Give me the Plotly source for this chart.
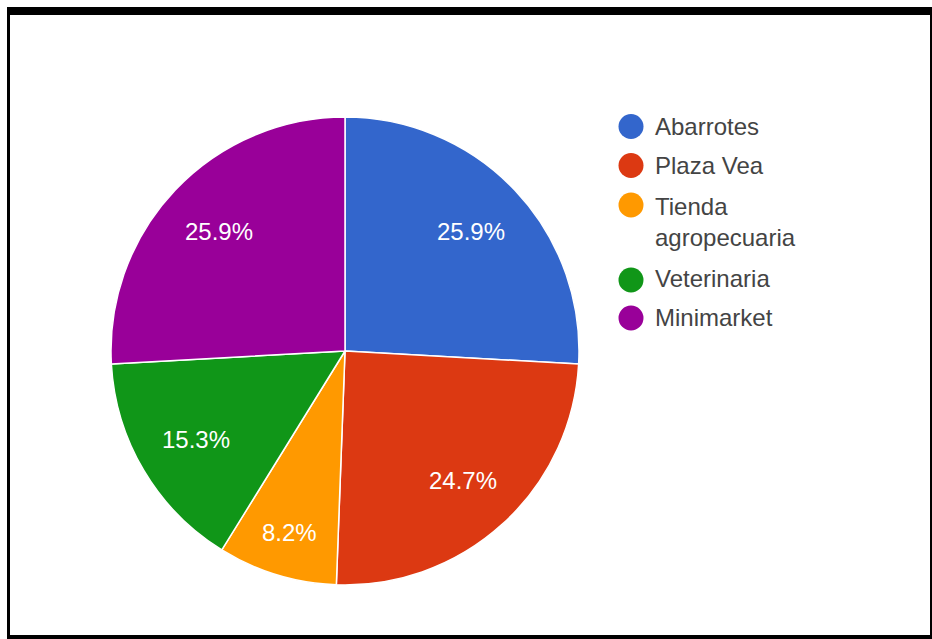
import math
import plotly.graph_objects as go

# Survey responses: where purchases are made
categories = ["Abarrotes", "Plaza Vea", "Tienda agropecuaria", "Veterinaria", "Minimarket"]
legend_labels = ["Abarrotes", "Plaza Vea", "Tienda<br>agropecuaria", "Veterinaria", "Minimarket"]
counts = [22, 21, 7, 13, 22]
colors = ["#3366cc", "#dc3912", "#ff9900", "#109618", "#990099"]

# radial placement of the percentage labels (fraction of the radius)
label_radius = [0.74, 0.75, 0.81, 0.74, 0.74]

W, H = 932, 639
FONT = "Liberation Sans, Arial, sans-serif"


def px_x(x):
    return x / W


def px_y(y):
    return 1 - y / H


fig = go.Figure()

cx, cy, r = 345, 351, 234
fig.add_trace(go.Pie(
    labels=categories,
    values=counts,
    sort=False,
    direction="clockwise",
    rotation=0,
    marker=dict(colors=colors, line=dict(color="white", width=1.5)),
    textinfo="none",
    domain=dict(x=[px_x(cx - r), px_x(cx + r)], y=[px_y(cy + r), px_y(cy - r)]),
    showlegend=False,
    hoverinfo="label+percent",
))

annotations = []

# percentage labels at each slice's bisector
total = sum(counts)
cum = 0
for v, rf in zip(counts, label_radius):
    mid = (cum + v / 2) / total * 2 * math.pi
    cum += v
    lx = cx + rf * r * math.sin(mid)
    ly = cy - rf * r * math.cos(mid)
    annotations.append(dict(xref="paper", yref="paper", x=px_x(lx), y=px_y(ly),
                            xanchor="center", yanchor="middle",
                            text=f"{v / total * 100:.1f}%", showarrow=False,
                            font=dict(family=FONT, size=24, color="white")))

shapes = []
# black frame around the chart
frame = [(7, 7, 932, 15), (7, 7, 10, 639), (930, 7, 932, 639), (7, 635, 932, 639)]
for x0, y0, x1, y1 in frame:
    shapes.append(dict(type="rect", xref="paper", yref="paper",
                       x0=px_x(x0), x1=px_x(x1), y0=px_y(y1), y1=px_y(y0),
                       fillcolor="black", line=dict(width=0)))

# legend: circle swatches and labels
legend_rows = [126.5, 165.5, 205, 280, 318]
label_rows = [126.5, 165.5, 222, 278, 317]
for lab, col, yc, yt in zip(legend_labels, colors, legend_rows, label_rows):
    rad = 12.5
    shapes.append(dict(type="circle", xref="paper", yref="paper",
                       x0=px_x(631 - rad), x1=px_x(631 + rad),
                       y0=px_y(yc + rad), y1=px_y(yc - rad),
                       fillcolor=col, line=dict(width=0)))
    annotations.append(dict(xref="paper", yref="paper", x=px_x(653), y=px_y(yt),
                            xanchor="left", yanchor="middle", align="left",
                            text=lab, showarrow=False,
                            font=dict(family=FONT, size=24, color="#444444")))

fig.update_layout(
    width=W, height=H,
    margin=dict(l=0, r=0, t=0, b=0),
    paper_bgcolor="white",
    plot_bgcolor="white",
    shapes=shapes,
    annotations=annotations,
)

fig.write_html("out.html")
